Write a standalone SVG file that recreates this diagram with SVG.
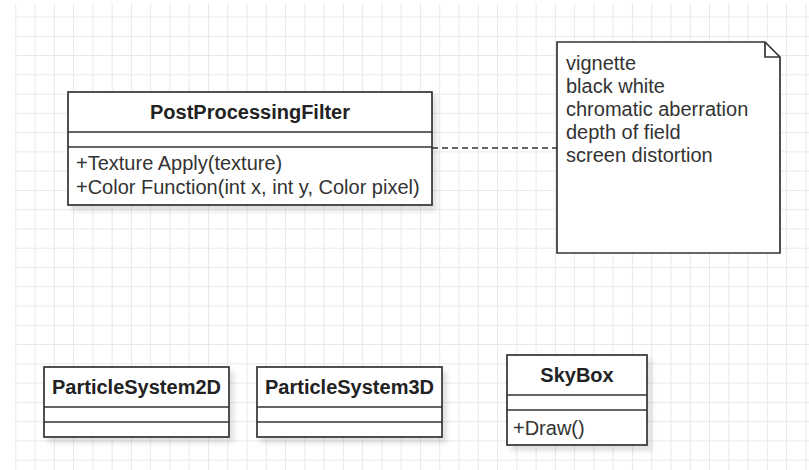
<svg xmlns="http://www.w3.org/2000/svg" width="809" height="470" viewBox="0 0 809 470">
  <defs>
    <pattern id="grid" x="15.3" y="16.5" width="19.27" height="19.27" patternUnits="userSpaceOnUse">
      <path d="M0 0.5H19.27M0.5 0V19.27" fill="none" stroke="#e8e8e8" stroke-width="1"/>
    </pattern>
    <filter id="shadow" x="-10%" y="-10%" width="130%" height="140%">
      <feDropShadow dx="4" dy="5" stdDeviation="2.5" flood-color="#000" flood-opacity="0.12"/>
    </filter>
  </defs>
  <style>
    .box { fill: #ffffff; stroke: #333333; stroke-width: 1.7; }
    .sep { fill: none; stroke: #333333; stroke-width: 1.7; }
    .title { font-family: "Liberation Sans", Arial, sans-serif; font-size: 20px; font-weight: bold; fill: #222222; text-anchor: middle; }
    .member { font-family: "Liberation Sans", Arial, sans-serif; font-size: 20px; fill: #333333; }
    .link { fill: none; stroke: #333333; stroke-width: 1.7; stroke-dasharray: 6 4; }
  </style>

  <!-- background grid -->
  <rect x="0" y="0" width="809" height="470" fill="#ffffff"/>
  <rect x="15" y="3" width="794" height="467" fill="url(#grid)"/>

  <!-- connectors -->
  <g id="connectors">
    <path class="link" d="M432 148H557"/>
  </g>

  <!-- PostProcessingFilter class -->
  <g id="PostProcessingFilter">
    <rect class="box" x="68" y="92" width="364" height="113" filter="url(#shadow)"/>
    <path class="sep" d="M68 132H432M68 147H432"/>
    <text class="title" x="250" y="119">PostProcessingFilter</text>
    <text class="member" x="76" y="170">+Texture Apply(texture)</text>
    <text class="member" x="76" y="194">+Color Function(int x, int y, Color pixel)</text>
  </g>

  <!-- note listing filter kinds -->
  <g id="FilterNote">
    <path class="box" d="M557 42H765L780 57V253H557Z"/>
    <path class="sep" d="M765 42V57H780"/>
    <text class="member" x="566" y="70">vignette</text>
    <text class="member" x="566" y="93">black white</text>
    <text class="member" x="566" y="116">chromatic aberration</text>
    <text class="member" x="566" y="139">depth of field</text>
    <text class="member" x="566" y="162">screen distortion</text>
  </g>

  <!-- ParticleSystem2D class -->
  <g id="ParticleSystem2D">
    <rect class="box" x="44" y="367" width="185" height="70" filter="url(#shadow)"/>
    <path class="sep" d="M44 407H229M44 422H229"/>
    <text class="title" x="136.5" y="394">ParticleSystem2D</text>
  </g>

  <!-- ParticleSystem3D class -->
  <g id="ParticleSystem3D">
    <rect class="box" x="257" y="367" width="185" height="70" filter="url(#shadow)"/>
    <path class="sep" d="M257 407H442M257 422H442"/>
    <text class="title" x="349.5" y="394">ParticleSystem3D</text>
  </g>

  <!-- SkyBox class -->
  <g id="SkyBox">
    <rect class="box" x="507" y="355" width="140" height="90" filter="url(#shadow)"/>
    <path class="sep" d="M507 395H647M507 410H647"/>
    <text class="title" x="577" y="382">SkyBox</text>
    <text class="member" x="513" y="435">+Draw()</text>
  </g>
</svg>
